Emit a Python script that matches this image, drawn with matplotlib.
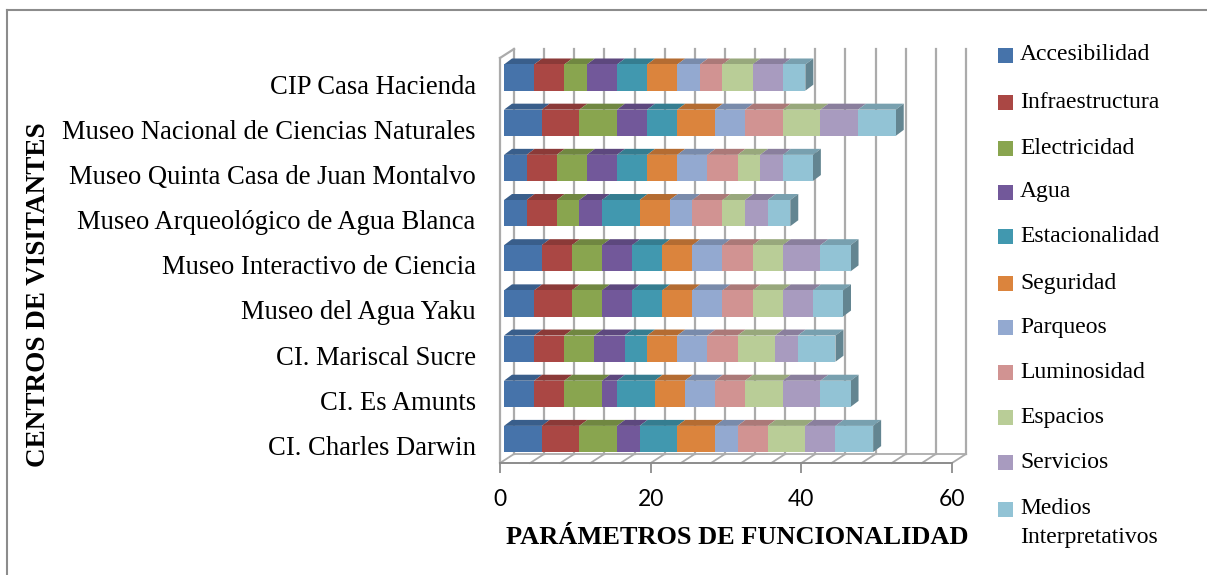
import matplotlib
matplotlib.use("Agg")
import matplotlib.pyplot as plt
from matplotlib.patches import Polygon, Rectangle
from matplotlib.transforms import ScaledTranslation
from matplotlib.lines import Line2D
import numpy as np
import matplotlib.colors as mcolors

# ---------------- data (bottom-to-top order of categories) ----------------
categories = ["CI. Charles Darwin", "CI. Es Amunts", "CI. Mariscal Sucre",
              "Museo del Agua Yaku", "Museo Interactivo de Ciencia",
              "Museo Arqueológico de Agua Blanca", "Museo Quinta Casa de Juan Montalvo",
              "Museo Nacional de Ciencias Naturales", "CIP Casa Hacienda"]

series_names = ["Accesibilidad", "Infraestructura", "Electricidad", "Agua",
                "Estacionalidad", "Seguridad", "Parqueos", "Luminosidad",
                "Espacios", "Servicios", "Medios\nInterpretativos"]

accesibilidad   = [5, 4, 4, 4, 5, 3, 3, 5, 4]
infraestructura = [5, 4, 4, 5, 4, 4, 4, 5, 4]
electricidad    = [5, 5, 4, 4, 4, 3, 4, 5, 3]
agua            = [3, 2, 4, 4, 4, 3, 4, 4, 4]
estacionalidad  = [5, 5, 3, 4, 4, 5, 4, 4, 4]
seguridad       = [5, 4, 4, 4, 4, 4, 4, 5, 4]
parqueos        = [3, 4, 4, 4, 4, 3, 4, 4, 3]
luminosidad     = [4, 4, 4, 4, 4, 4, 4, 5, 3]
espacios        = [5, 5, 5, 4, 4, 3, 3, 5, 4]
servicios       = [4, 5, 3, 4, 5, 3, 3, 5, 4]
medios          = [5, 4, 5, 4, 4, 3, 4, 5, 3]

series_values = [accesibilidad, infraestructura, electricidad, agua, estacionalidad,
                 seguridad, parqueos, luminosidad, espacios, servicios, medios]

colors = ["#4673AA", "#AA4744", "#89A54F", "#72589A", "#4198AF", "#DB843D",
          "#93A9D0", "#D19392", "#B9CD97", "#A89BBF", "#92C3D5"]

x_ticks = [0, 20, 40, 60]
grid_step = 4

# ---------------- figure ----------------
W, H, DPI = 1207, 575, 100
fig = plt.figure(figsize=(W / DPI, H / DPI), dpi=DPI)
ax_l, ax_r, ax_t, ax_b = 500, 952, 58, 463
ax = fig.add_axes([ax_l / W, 1 - ax_b / H, (ax_r - ax_l) / W, (ax_b - ax_t) / H])
xmin, xmax = 0, 60
y0, y1 = -0.465, 8.5
ax.set_xlim(xmin, xmax)
ax.set_ylim(y0, y1)
for s in ax.spines.values():
    s.set_visible(False)

px_x = (ax_r - ax_l) / (xmax - xmin)   # pixels per x unit
px_y = (ax_b - ax_t) / (y1 - y0)       # pixels per y unit

def dx(p):
    return p / px_x

def dy(p):
    return p / px_y

gray = "#ABABAB"
# wall depth offset
wdx, wdy = dx(14), dy(9)

# back wall gridlines and floor lines
for g in np.arange(xmin, xmax + 0.01, grid_step):
    ax.add_line(Line2D([g + wdx, g + wdx], [y0 + wdy, y1 + wdy], color=gray, lw=1.6,
                       clip_on=False, zorder=1))
    ax.add_line(Line2D([g, g + wdx], [y0, y0 + wdy], color=gray, lw=1.3,
                       clip_on=False, zorder=1))
# floor back edge
ax.add_line(Line2D([xmin + wdx, xmax + wdx], [y0 + wdy, y0 + wdy], color=gray, lw=1.3,
                   clip_on=False, zorder=1))
# left wall
ax.add_line(Line2D([xmin, xmin], [y0, y1], color=gray, lw=1.6, clip_on=False, zorder=1))
ax.add_line(Line2D([xmin, xmin + wdx], [y1, y1 + wdy], color=gray, lw=1.6,
                   clip_on=False, zorder=1))
# front floor edge / axis
ax.add_line(Line2D([xmin, xmax], [y0, y0], color="#8C8C8C", lw=1.4, clip_on=False, zorder=2))

def shade(c, f):
    r, g, b = mcolors.to_rgb(c)
    return (r * f, g * f, b * f)

# bars (front face offset + depth)
fdx, fdy = dx(4), dy(3)     # bars sit a bit into the depth
bdx, bdy = dx(8), dy(6)     # bar depth
bh = 0.58
ypos = np.arange(len(categories))
left = np.zeros(len(categories))
for vals, col in zip(series_values, colors):
    vals = np.array(vals, dtype=float)
    for yi, (l, v) in enumerate(zip(left, vals)):
        xL, xR = l + fdx, l + v + fdx
        yT = yi + bh / 2 + fdy
        top = Polygon([[xL, yT], [xR, yT], [xR + bdx, yT + bdy], [xL + bdx, yT + bdy]],
                      closed=True, facecolor=shade(col, 0.82), edgecolor="none",
                      clip_on=False, zorder=3)
        ax.add_patch(top)
    ax.barh(ypos + fdy, vals, left=left + fdx, height=bh, color=col,
            edgecolor="none", zorder=4, clip_on=False)
    left = left + vals

# right side faces (end of each stack)
for yi, total in enumerate(left):
    col = colors[-1]
    xR = total + fdx
    yB, yT = yi - bh / 2 + fdy, yi + bh / 2 + fdy
    side = Polygon([[xR, yB], [xR, yT], [xR + bdx, yT + bdy], [xR + bdx, yB + bdy]],
                   closed=True, facecolor=shade(col, 0.68), edgecolor="none",
                   clip_on=False, zorder=3)
    ax.add_patch(side)

# ticks
ax.set_xticks(x_ticks)
ax.set_xticklabels([str(t) for t in x_ticks], fontfamily="Lato", fontsize=16.5)
ax.tick_params(axis="x", length=7, width=1.3, color="#8C8C8C", pad=11.5)
ax.set_yticks(ypos)
ax.set_yticklabels(categories, fontfamily="Liberation Serif", fontsize=19.2)
ax.tick_params(axis="y", length=0, pad=17.5)
shift = ScaledTranslation(0, -2.5 / 72, fig.dpi_scale_trans)
for lab in ax.get_yticklabels():
    lab.set_transform(lab.get_transform() + shift)

# axis titles
fig.text(737 / W, 1 - 538 / H, "PARÁMETROS DE FUNCIONALIDAD", ha="center", va="center",
         fontfamily="Liberation Serif", fontweight="bold", fontsize=19)
fig.text(39 / W, 1 - 295 / H, "CENTROS DE VISITANTES", ha="center", va="center",
         rotation=90, fontfamily="Liberation Serif", fontweight="bold", fontsize=19.5)

# legend (manual)
leg_y = [55, 102, 148, 192, 237, 283, 327, 372, 417, 462, 509]
for name, col, yy in zip(series_names, colors, leg_y):
    fig.patches.append(Rectangle((998 / W, 1 - (yy + 7.5) / H), 15 / W, 15 / H,
                                 transform=fig.transFigure, facecolor=col, edgecolor="none"))
    if "\n" in name:
        fig.text(1020 / W, 1 - (yy - 11) / H, name, ha="left", va="top",
                 fontfamily="Liberation Serif", fontsize=17, linespacing=1.5)
    else:
        fig.text(1020 / W, 1 - yy / H, name, ha="left", va="center",
                 fontfamily="Liberation Serif", fontsize=17)

# outer border (partially visible)
fig.add_artist(Line2D([7 / W, 7 / W], [0, 1 - 10 / H], transform=fig.transFigure,
                      color="#8C8C8C", lw=1.5))
fig.add_artist(Line2D([7 / W, 1], [1 - 10 / H, 1 - 10 / H], transform=fig.transFigure,
                      color="#8C8C8C", lw=1.5))

fig.savefig("out.png", dpi=DPI)
